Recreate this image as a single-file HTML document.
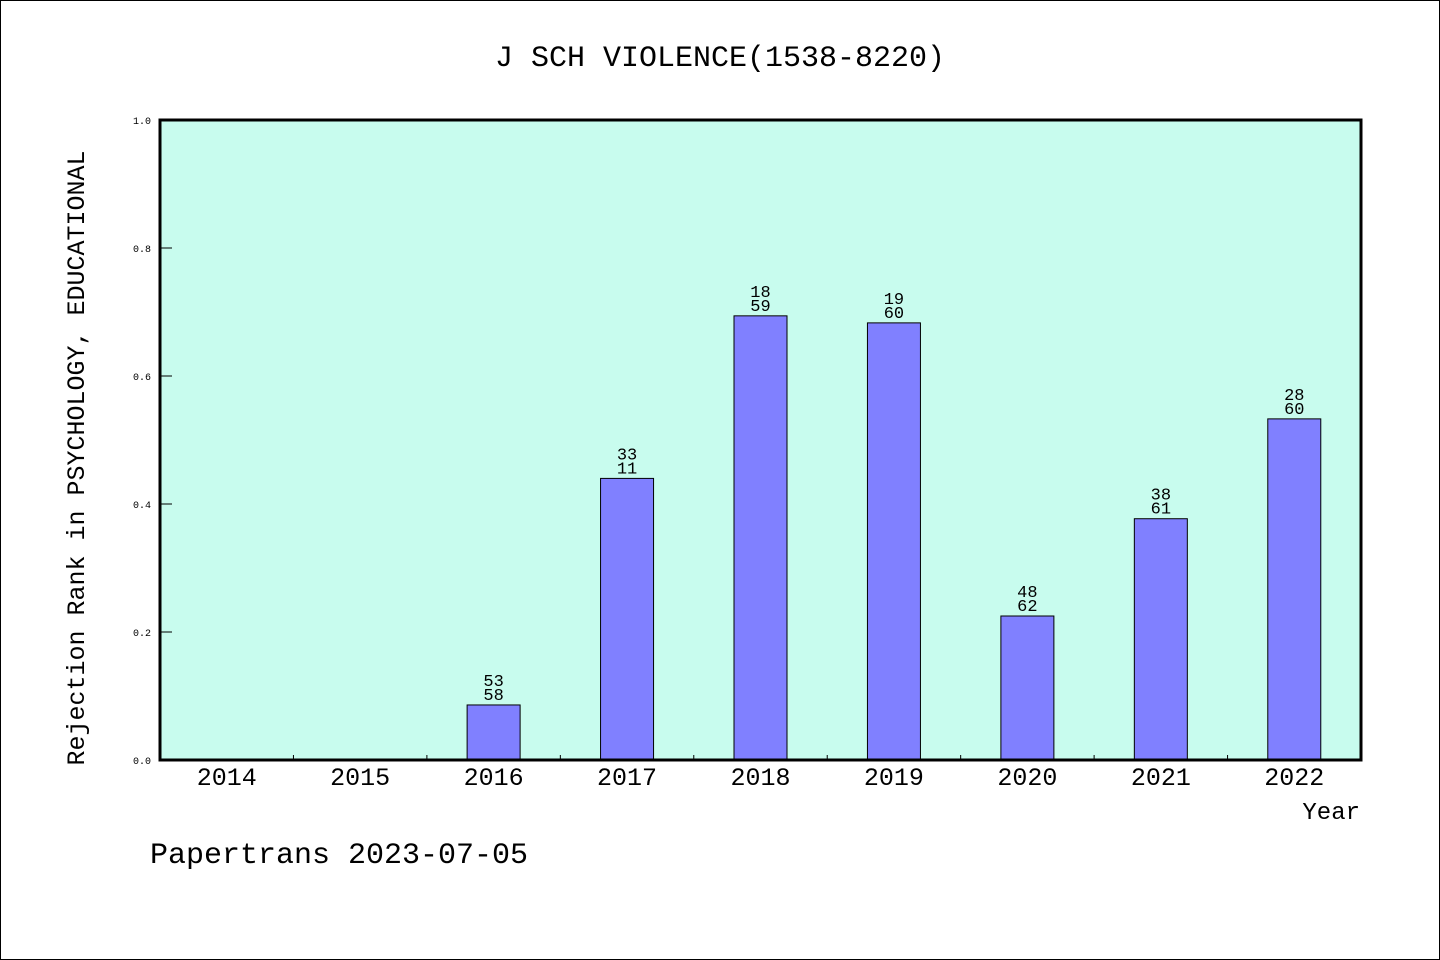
<!DOCTYPE html>
<html><head><meta charset="utf-8"><style>
body{margin:0;background:#fff}
svg{display:block;font-family:"Liberation Mono","DejaVu Sans Mono",monospace}
</style></head><body>
<svg width="1440" height="960">
<rect x="0.5" y="0.5" width="1439" height="959" fill="#fff" stroke="#000"/>
<text x="720" y="66" font-size="30" text-anchor="middle">J SCH VIOLENCE(1538-8220)</text>
<rect x="160" y="120" width="1201" height="640" fill="#c8fcee"/>
<g id="marks"></g>
<rect x="160" y="120" width="1201" height="640" fill="none" stroke="#000" stroke-width="3"/>
<text x="1360" y="819" font-size="24" text-anchor="end">Year</text>
<text transform="translate(84,458) rotate(-90)" font-size="25" text-anchor="middle">Rejection Rank in PSYCHOLOGY, EDUCATIONAL</text>
<text x="150" y="863" font-size="30">Papertrans 2023-07-05</text>
</svg>
<script>
const categories=["2014","2015","2016","2017","2018","2019","2020","2021","2022"];
const values=[null,null,0.086,0.44,0.694,0.683,0.225,0.377,0.533];
const topLabels=["","","53","33","18","19","48","38","28"];
const bottomLabels=["","","58","11","59","60","62","61","60"];
const yTicks=[0,0.2,0.4,0.6,0.8,1.0];
const X0=160,X1=1361,Y0=760,Y1=120,NS="http://www.w3.org/2000/svg";
const band=(X1-X0)/categories.length;
const xc=i=>X0+band*(i+0.5);
const y=v=>Y0-(Y0-Y1)*v;
const g=document.getElementById('marks');
function mk(t,a){const e=document.createElementNS(NS,t);for(const k in a)e.setAttribute(k,a[k]);g.appendChild(e);return e;}
yTicks.forEach(v=>{
  const l=mk('line',{x1:X0,x2:X0+12,y1:y(v),y2:y(v),stroke:'#000'});
  
  
  const t=mk('text',{x:151,y:y(v)+4,'font-size':10,'text-anchor':'end'});
  t.textContent=v.toFixed(1);
  
  
});
categories.forEach((c,i)=>{
  if(i>0){const l=mk('line',{x1:X0+band*i,x2:X0+band*i,y1:Y0-5,y2:Y0,stroke:'#000'});
  
  }
  const t=mk('text',{x:xc(i),y:785,'font-size':25,'text-anchor':'middle'});
  t.textContent=c;
  
  
  if(values[i]==null)return;
  const b=mk('rect',{x:xc(i)-26.5,y:y(values[i]),width:53,height:Y0-y(values[i]),fill:'#8080ff',stroke:'#000','stroke-width':1});
  
  
  const t1=mk('text',{x:xc(i),y:y(values[i])-19,'font-size':17,'text-anchor':'middle'});
  t1.textContent=topLabels[i];
  
  
  const t2=mk('text',{x:xc(i),y:y(values[i])-5,'font-size':17,'text-anchor':'middle'});
  t2.textContent=bottomLabels[i];
  
  
});
</script>
</body></html>
